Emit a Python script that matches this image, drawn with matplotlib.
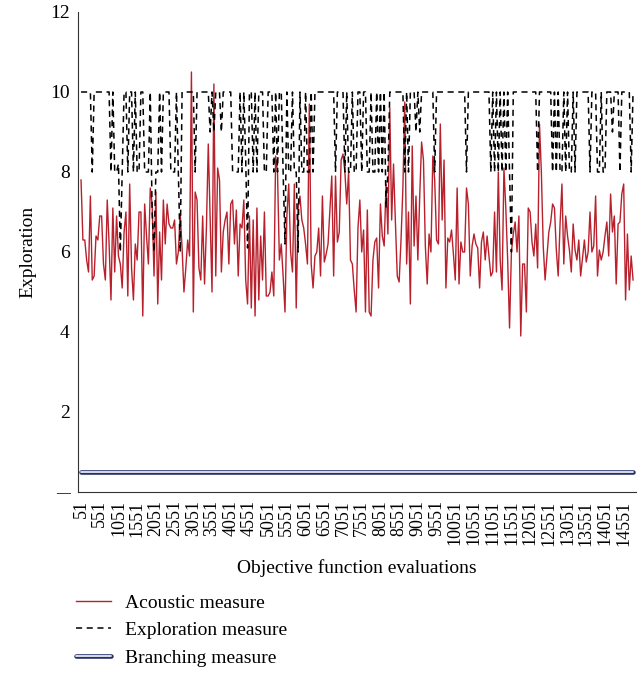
import matplotlib
matplotlib.use("Agg")
import matplotlib.pyplot as plt
import matplotlib.patheffects as pe

plt.rcParams['font.family'] = ['Liberation Serif', 'DejaVu Serif']

# acoustic measure (one value every 50 evaluations)
acoustic = [
    7.8, 6.3, 6.3, 5.8, 5.5, 7.4, 5.3, 5.4, 6.4, 6.3, 6.9, 6.9, 5.7, 5.3, 7.3, 6.2,
    4.8, 7.1, 5.5, 6.9, 5.9, 5.7, 5.1, 6.5, 7.0, 4.9, 7.7, 5.6, 4.8, 6.2, 5.8, 7.0,
    7.0, 4.4, 7.2, 6.4, 5.7, 7.6, 7.2, 5.4, 7.5, 4.7, 6.5, 5.3, 7.3, 6.2, 7.2, 6.7,
    6.6, 6.6, 6.8, 5.7, 6.0, 6.95, 6.1, 5.0, 5.6, 6.3, 5.9, 10.5, 4.5, 7.5, 7.3, 5.6,
    5.3, 6.9, 5.2, 6.6, 8.7, 6.9, 5.0, 10.2, 5.4, 8.1, 7.8, 5.5, 6.5, 6.8, 7.0, 5.7,
    7.2, 7.3, 6.2, 7.05, 5.4, 6.7, 6.6, 7.3, 5.3, 4.7, 6.9, 4.6, 6.8, 4.4, 7.1, 4.8,
    6.4, 5.3,
    7.0, 4.9, 4.9, 5.0, 5.5, 4.9, 8.4, 8.0, 5.8, 6.2, 5.4, 4.5, 6.9, 7.7, 6.0, 5.5,
    7.7, 4.6, 7.1, 7.4, 6.8, 6.6, 6.2, 5.7, 9.7, 5.7, 5.1, 5.9, 6.0, 6.6, 5.4, 7.4,
    5.75, 5.95, 6.2, 7.05, 7.9, 5.4, 7.9, 6.25, 6.5, 8.3, 8.45, 8.0, 7.2, 8.0, 5.8,
    5.7, 5.05,
    4.5, 6.6, 7.3, 6.0, 6.55, 4.5, 7.05, 4.5, 4.4, 5.8, 6.25, 6.35, 5.1, 7.2, 6.4,
    6.15, 7.7, 6.45, 9.6, 6.8, 8.2, 6.75, 5.4, 5.25, 6.3, 7.6, 9.75, 5.7, 7.0, 4.7,
    8.65, 6.15, 7.4, 5.8, 7.4, 8.75, 8.3, 6.15, 5.2, 6.45, 6.0, 8.4, 7.8, 6.3, 6.2,
    9.2, 6.8, 8.3, 5.1, 6.35,
    6.25, 6.55, 5.95, 5.3, 7.6, 5.2, 6.25, 6.0, 6.0, 7.6, 7.2, 5.4, 6.15, 6.45, 6.2,
    6.1, 5.1, 6.25, 6.5, 5.8, 6.4, 5.9, 5.4, 5.5, 7.0, 5.5, 8.0, 5.8, 5.05, 8.1, 7.1,
    5.8, 4.1, 6.0, 6.45, 6.75, 6.0, 6.9, 3.9, 5.7, 5.7, 4.5, 7.1, 7.0, 6.25, 5.9, 6.7,
    5.6, 9.2, 8.0,
    6.15, 5.3, 5.9, 6.5, 6.75, 7.2, 7.1, 6.05, 5.4, 6.7, 7.7, 5.7, 6.9, 6.4, 6.05,
    5.5, 6.7, 6.05, 5.8, 6.3, 5.4, 5.85, 6.3, 5.75, 6.0, 7.0, 6.0, 6.15, 7.4, 5.4,
    6.05, 5.8, 6.0, 6.4, 6.75, 5.9, 7.45, 6.5, 6.9, 5.2, 6.7, 6.75, 7.45, 7.7, 4.8,
    6.45, 5.05, 5.9, 5.3,
]

# exploration measure sits at 10 except at these sample positions
dip_index = [6, 16, 18, 19, 20, 21, 22, 25, 28, 30, 31, 34, 35, 36, 38, 39, 40, 41, 43,
             48, 49, 50, 52, 53, 61, 69, 71, 75, 81, 82, 83, 84, 86, 88, 89, 92, 94,
             98, 99, 103, 105, 108, 109, 111, 112, 114, 115, 116, 118, 119, 121, 122, 124,
             136, 141, 143, 144, 146, 147, 150, 153, 154, 156, 157, 159, 161, 163, 164,
             173, 175, 179, 181, 189, 206, 219, 221, 223, 225, 227, 229, 230, 244,
             252, 254, 256, 257, 259, 261, 262, 264, 272, 276, 277, 279, 280, 284, 288,
             294, 296]
dip_value = [8, 8, 8, 8, 8.2, 6, 8, 8, 8, 8, 8, 8, 8, 8, 7, 6, 8, 8, 8,
             8, 8, 8, 8, 6, 8, 9, 9, 9, 8, 8, 8, 8, 8, 8.3, 6.1, 8, 8,
             8, 8, 8, 8, 8, 6.2, 8, 8, 8, 8, 6, 8, 8, 8, 8, 8,
             8, 8, 8, 8, 8, 8, 8, 8, 8, 8, 8, 8, 8, 7.1, 8,
             8, 8, 9, 9, 8, 8, 8, 8, 8, 8, 8, 8, 6, 8,
             8, 8, 8, 8, 8, 8, 8, 8, 8, 8, 8, 8, 8, 9, 8,
             8, 8]
branching_level = 0.5

evaluations = [51 + 50 * i for i in range(len(acoustic))]
dips = dict(zip(dip_index, dip_value))
exploration = [dips.get(i, 10) for i in range(len(acoustic))]
branching = [branching_level] * len(acoustic)

x_ticks = list(range(51, 14552, 500))

fig = plt.figure(figsize=(6.43, 6.74), dpi=100)
ax = fig.add_axes([78 / 643, 1 - 492 / 674, (636 - 78) / 643, (492 - 12) / 674])

ax.plot(evaluations, acoustic, color='#b8202c', lw=1.0, label='Acoustic measure')
ax.plot(evaluations, exploration, color='black', lw=1.1, dashes=(4, 3),
        label='Exploration measure')
ax.plot(evaluations, branching, color='#e6e8f4', lw=1.3, solid_capstyle='round',
        path_effects=[pe.Stroke(linewidth=3.3, foreground='#26306a', capstyle='round'),
                      pe.Normal()],
        label='Branching measure')

ax.set_xlim(-30, 14880)
ax.set_ylim(0, 12)
ax.set_yticks([0, 2, 4, 6, 8, 10, 12])
ax.set_yticklabels(['—', '2', '4', '6', '8', '10', '12'], fontsize=14)
ax.get_yticklabels()[0].set_fontsize(10)
ax.set_xticks(x_ticks)
ax.set_xticklabels([str(t) for t in x_ticks], rotation=90, fontsize=13)
ax.tick_params(length=0, pad=6)
for s in ['top', 'right']:
    ax.spines[s].set_visible(False)
ax.spines['left'].set_color('#333333')
ax.spines['bottom'].set_color('#333333')

ax.set_ylabel('Exploration', fontsize=14, labelpad=10)
ax.set_xlabel('Objective function evaluations', fontsize=14, labelpad=10)

fig.legend(loc='upper left', bbox_to_anchor=(72 / 643, 1 - 590 / 674), frameon=False,
           fontsize=14, handlelength=1.8, handletextpad=0.75, labelspacing=0.52,
           borderaxespad=0, borderpad=0.2)

fig.savefig('out.png', dpi=100)
